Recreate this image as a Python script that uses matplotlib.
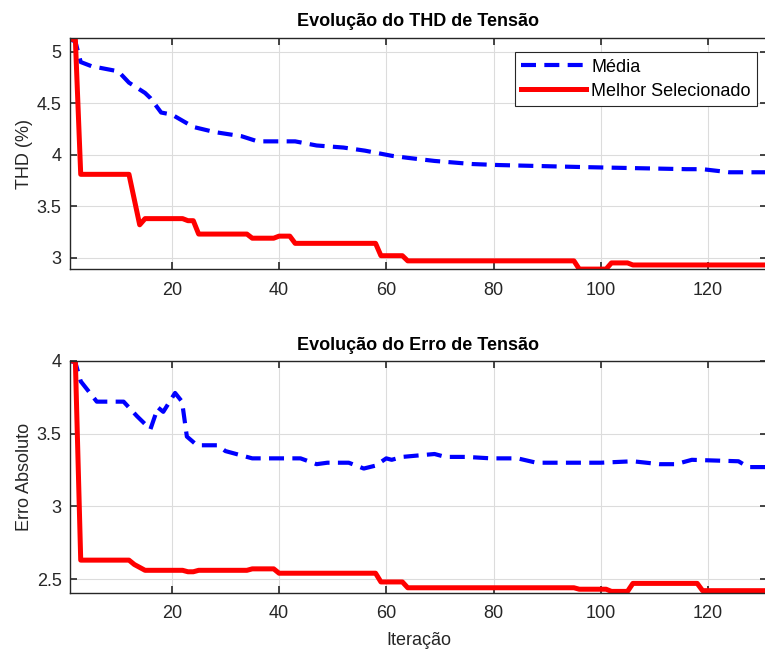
import matplotlib
matplotlib.use("Agg")
import matplotlib.pyplot as plt

plt.rcParams['font.family'] = ['Liberation Sans', 'DejaVu Sans']

# THD (%) - iteration breakpoints
thd_mean_it = [1, 2, 3, 5, 10, 12, 15, 16, 18, 20, 24, 28, 33, 36, 43, 47, 52, 56, 61,
               64, 69, 76, 81, 97, 116, 119, 124, 131]
thd_mean = [5.12, 5.10, 4.90, 4.86, 4.81, 4.70, 4.60, 4.55, 4.41, 4.39, 4.27, 4.22, 4.18,
            4.13, 4.13, 4.09, 4.07, 4.04, 3.99, 3.97, 3.94, 3.91, 3.90, 3.88, 3.86, 3.86,
            3.83, 3.83]
thd_best_it = [1, 2, 3, 12, 14, 15, 22, 23, 24, 25, 34, 35, 39, 40, 42, 43, 58, 59, 63, 64,
               95, 96, 101, 102, 105, 106, 118, 119, 131]
thd_best = [5.12, 5.12, 3.81, 3.81, 3.32, 3.38, 3.38, 3.36, 3.36, 3.23, 3.23, 3.19, 3.19,
            3.21, 3.21, 3.14, 3.14, 3.02, 3.02, 2.97, 2.97, 2.89, 2.89, 2.95, 2.95, 2.93,
            2.93, 2.93, 2.93]

# Absolute error - iteration breakpoints
err_mean_it = [1, 2, 3, 6, 11, 13.5, 16, 17.4, 18.4, 20.6, 21.9, 22.8, 24.7, 28.5, 30, 35,
               44, 47, 49, 53, 55.8, 58, 60, 61, 63, 69, 71, 75, 79.5, 84.5, 88, 100,
               106, 111, 114, 117, 125.7, 127.5, 131]
err_mean = [4.00, 3.99, 3.86, 3.72, 3.72, 3.62, 3.53, 3.68, 3.65, 3.78, 3.72, 3.48, 3.42,
            3.42, 3.38, 3.33, 3.33, 3.29, 3.30, 3.30, 3.26, 3.28, 3.33, 3.32, 3.34, 3.36,
            3.34, 3.34, 3.33, 3.33, 3.30, 3.30, 3.31, 3.29, 3.29, 3.32, 3.31, 3.27, 3.27]
err_best_it = [1, 2, 3, 12, 13, 15, 22, 23, 24, 25, 34, 35, 39, 40, 58, 59, 63, 64, 95, 96,
               101, 102, 105, 106, 118, 119, 131]
err_best = [4.00, 4.00, 2.63, 2.63, 2.60, 2.56, 2.56, 2.55, 2.55, 2.56, 2.56, 2.57, 2.57,
            2.54, 2.54, 2.48, 2.48, 2.44, 2.44, 2.43, 2.43, 2.415, 2.415, 2.47, 2.47, 2.42,
            2.42]

xticks = [20, 40, 60, 80, 100, 120]

fig = plt.figure(figsize=(7.65, 6.5), dpi=100)
ax1 = fig.add_axes([0.0915, 0.586, 0.911, 0.355])
ax2 = fig.add_axes([0.0915, 0.0877, 0.911, 0.357])


def style(ax):
    ax.grid(True, color='#dcdcdc', linewidth=0.8)
    ax.set_axisbelow(True)
    ax.tick_params(direction='in', top=True, right=True, length=5, width=1.2,
                   labelsize=13, colors='#262626')
    ax.tick_params(axis='x', pad=9)
    ax.tick_params(axis='y', pad=6)
    for s in ax.spines.values():
        s.set_color('#262626')
        s.set_linewidth(1.0)
    ax.set_xticks(xticks)
    ax.set_xlim(1, 131)


ax1.plot(thd_mean_it, thd_mean, '--', color='#0000ff', lw=3, dashes=(3.6, 2),
         label='Média')
ax1.plot(thd_best_it, thd_best, '-', color='#ff0000', lw=3.6,
         label='Melhor Selecionado')
style(ax1)
ax1.set_ylim(2.89, 5.13)
ax1.set_yticks([3, 3.5, 4, 4.5, 5])
ax1.set_yticklabels(['3', '3.5', '4', '4.5', '5'])
ax1.set_title('Evolução do THD de Tensão', fontsize=13, fontweight='bold', pad=9)
ax1.set_ylabel('THD (%)', fontsize=13, color='#262626', labelpad=3)
leg = ax1.legend(loc='upper right', bbox_to_anchor=(0.986, 0.94), fontsize=13,
                 fancybox=False, framealpha=1, edgecolor='#262626',
                 handlelength=3.6, borderpad=0.35, labelspacing=0.4,
                 handletextpad=0.3, borderaxespad=0)
leg.get_frame().set_linewidth(0.8)

ax2.plot(err_mean_it, err_mean, '--', color='#0000ff', lw=3, dashes=(3.6, 2))
ax2.plot(err_best_it, err_best, '-', color='#ff0000', lw=3.6)
style(ax2)
ax2.set_ylim(2.404, 4.0)
ax2.set_yticks([2.5, 3, 3.5, 4])
ax2.set_yticklabels(['2.5', '3', '3.5', '4'])
ax2.set_title('Evolução do Erro de Tensão', fontsize=13, fontweight='bold', pad=8)
ax2.set_ylabel('Erro Absoluto', fontsize=13, color='#262626', labelpad=3)
ax2.set_xlabel('Iteração', fontsize=13, color='#262626', labelpad=7)

fig.savefig('out.png', dpi=100)
